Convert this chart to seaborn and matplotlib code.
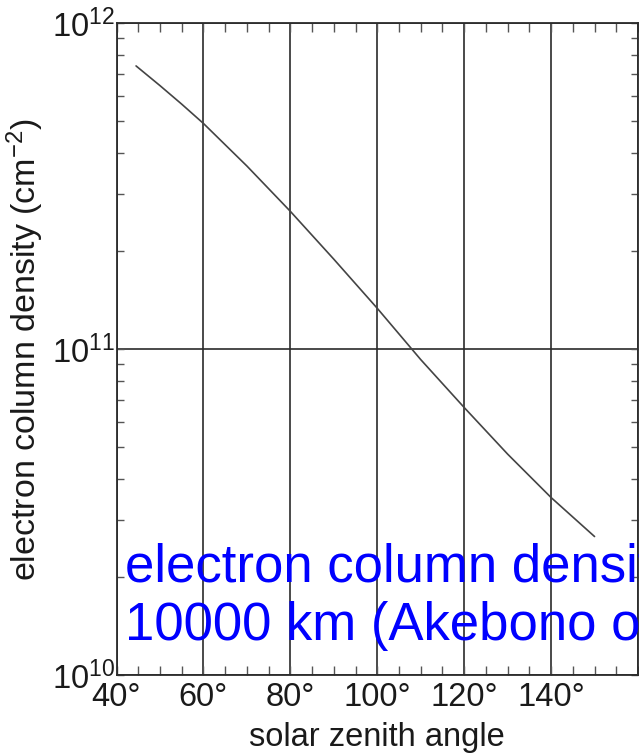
import numpy as np
import pandas as pd
import matplotlib
matplotlib.use("Agg")
import matplotlib.pyplot as plt
import matplotlib.ticker as mticker
import seaborn as sns

# ---- data ----
zenith_angle = [44.5, 50, 55, 60, 70, 80, 90, 100, 110, 120, 130, 140, 150]
column_density = [7.4e11, 6.44e11, 5.65e11, 4.93e11, 3.65e11, 2.65e11, 1.89e11,
                  1.336e11, 9.3e10, 6.63e10, 4.77e10, 3.51e10, 2.665e10]
x_ticks = [40, 60, 80, 100, 120, 140, 160]
x_tick_labels = ["40°", "60°", "80°", "100°", "120°", "140°", ""]
y_ticks = [1e10, 1e11, 1e12]
y_tick_labels = [r"$10^{10}$", r"$10^{11}$", r"$10^{12}$"]
overlay_text = "electron column density at\n10000 km (Akebono orbit)"

df = pd.DataFrame({"sza": zenith_angle, "ncol": column_density})

sns.set_style("ticks")
plt.rcParams["font.family"] = ["Liberation Sans", "DejaVu Sans"]
plt.rcParams["mathtext.fontset"] = "custom"
plt.rcParams["mathtext.rm"] = "Liberation Sans"
plt.rcParams["mathtext.it"] = "Liberation Sans"
plt.rcParams["mathtext.bf"] = "Liberation Sans"

fig = plt.figure(figsize=(6.39, 7.55), dpi=100)
ax = fig.add_axes([116.5 / 639, (755 - 675.3) / 755, (638 - 116.5) / 639, (675.3 - 23.3) / 755])

dark = "#2b2b2b"
sns.lineplot(data=df, x="sza", y="ncol", ax=ax, color="#444444", linewidth=1.2)

ax.set_yscale("log")
ax.set_xlim(40, 160)
ax.set_ylim(1e10, 1e12)

ax.set_xticks(x_ticks)
ax.set_xticklabels(x_tick_labels)
ax.xaxis.set_minor_locator(mticker.MultipleLocator(5))
ax.set_yticks(y_ticks)
ax.set_yticklabels(y_tick_labels)
ax.yaxis.set_minor_locator(mticker.LogLocator(base=10, subs=range(2, 10), numticks=20))
ax.yaxis.set_minor_formatter(mticker.NullFormatter())

ax.grid(True, which="major", color=dark, linewidth=1.2)
for s in ax.spines.values():
    s.set_color(dark)
    s.set_linewidth(1.3)

ax.tick_params(axis="both", which="both", direction="in", top=True, right=True,
               color="#555555", width=1.0, labelsize=23.5, labelcolor="#1a1a1a")
ax.tick_params(axis="x", which="both", length=6.5, pad=5)
ax.tick_params(axis="y", which="both", length=5, pad=1)

ax.set_xlabel("solar zenith angle", fontsize=23.5, color="#1a1a1a", labelpad=6)
ax.set_ylabel("electron column density (cm$^{-2}$)", fontsize=24.5, color="#1a1a1a", labelpad=4)

ax.text(0.0163, 0.054, overlay_text, transform=ax.transAxes, color="#0000ff",
        fontsize=38, ha="left", va="baseline", clip_on=False)

fig.savefig("out.png", dpi=100)
